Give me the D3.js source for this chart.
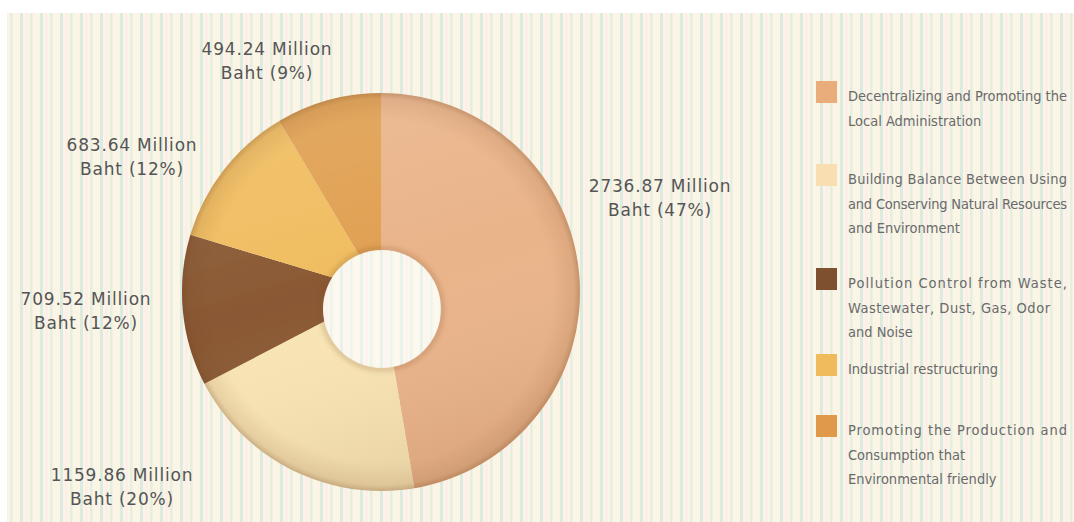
<!DOCTYPE html>
<html>
<head>
<meta charset="utf-8">
<script src="https://cdn.jsdelivr.net/npm/d3@7"></script>
<style>
  html, body { margin: 0; padding: 0; background: #ffffff; }
  svg { display: block; }
</style>
</head>
<body>
<svg id="chart" width="1074" height="522"></svg>
<script>
// Budget allocation by strategy (Million Baht)
const categories = [
  "Decentralizing and Promoting the Local Administration",
  "Building Balance Between Using and Conserving Natural Resources and Environment",
  "Pollution Control from Waste, Wastewater, Dust, Gas, Odor and Noise",
  "Industrial restructuring",
  "Promoting the Production and Consumption that Environmental friendly"
];
const values = [2736.87, 1159.86, 709.52, 683.64, 494.24];
const percents = [47, 20, 12, 12, 9];
const sliceColors = ["#eab48a", "#f8e4b4", "#8a5934", "#f0bd60", "#e0a051"];
const swatchColors = ["#e8ad7b", "#f8deb0", "#7f5030", "#f0bb5c", "#e0984b"];

// Legend text, broken into the lines it is set in
const legendLines = [
  ["Decentralizing and Promoting the", "Local Administration"],
  ["Building Balance Between Using", "and Conserving Natural Resources", "and Environment"],
  ["Pollution Control from Waste,", "Wastewater, Dust, Gas, Odor", "and Noise"],
  ["Industrial restructuring"],
  ["Promoting the Production and", "Consumption that", "Environmental friendly"]
];
// Lines stretched to a fixed width (justified); 0 = natural width
const legendJustify = [
  [219, 0],
  [219, 219, 0],
  [219, 202, 0],
  [0],
  [219, 0, 0]
];
const legendTop = [101, 184, 288, 374, 435];

// Value label anchor points (centre of the two-line label)
const labelPos = [[660, 192], [122, 481], [86, 305], [132, 151], [267, 55]];

const svg = d3.select("#chart");
const W = 1074, H = 522;
const defs = svg.append("defs");

// Striped panel background
const pat = defs.append("pattern")
  .attr("id", "stripes").attr("patternUnits", "userSpaceOnUse")
  .attr("width", 20).attr("height", 10);
pat.append("rect").attr("width", 20).attr("height", 10).attr("fill", "#fbf4e7");
pat.append("rect").attr("x", 0).attr("width", 3).attr("height", 10).attr("fill", "#dcebdf");
pat.append("rect").attr("x", 10).attr("width", 2.5).attr("height", 10).attr("fill", "#e4efe0");
pat.append("rect").attr("x", 5).attr("width", 3).attr("height", 10).attr("fill", "#fdefe7");
pat.append("rect").attr("x", 15).attr("width", 3).attr("height", 10).attr("fill", "#fbf6e3");

svg.append("rect")
  .attr("x", 7).attr("y", 13).attr("width", W - 7).attr("height", H - 13)
  .attr("fill", "url(#stripes)");

// Donut geometry
const cx = 381, cy = 292, R = 199;
const hole = { dx: 1, dy: 17, r: 59 };

const mask = defs.append("mask").attr("id", "holeMask")
  .attr("maskUnits", "userSpaceOnUse")
  .attr("x", 0).attr("y", 0).attr("width", W).attr("height", H);
mask.append("rect").attr("width", W).attr("height", H).attr("fill", "#fff");
mask.append("circle").attr("cx", cx + hole.dx).attr("cy", cy + hole.dy)
  .attr("r", hole.r).attr("fill", "#000");

// Soft rim shading
const rim = defs.append("radialGradient").attr("id", "rim")
  .attr("gradientUnits", "userSpaceOnUse")
  .attr("cx", cx).attr("cy", cy).attr("r", R);
rim.append("stop").attr("offset", "0.86").attr("stop-color", "#6b3a15").attr("stop-opacity", 0);
rim.append("stop").attr("offset", "0.97").attr("stop-color", "#6b3a15").attr("stop-opacity", 0.10);
rim.append("stop").attr("offset", "1").attr("stop-color", "#6b3a15").attr("stop-opacity", 0.28);

const light = defs.append("linearGradient").attr("id", "light")
  .attr("x1", 0).attr("y1", 0).attr("x2", 0.3).attr("y2", 1);
light.append("stop").attr("offset", "0").attr("stop-color", "#fff").attr("stop-opacity", 0.12);
light.append("stop").attr("offset", "0.55").attr("stop-color", "#fff").attr("stop-opacity", 0);
light.append("stop").attr("offset", "1").attr("stop-color", "#5a3010").attr("stop-opacity", 0.08);

defs.append("filter").attr("id", "soft")
  .attr("x", "-10%").attr("y", "-10%").attr("width", "120%").attr("height", "120%")
  .append("feGaussianBlur").attr("stdDeviation", 0.7);

const holeBlur = defs.append("filter").attr("id", "holeBlur")
  .attr("x", "-20%").attr("y", "-20%").attr("width", "140%").attr("height", "140%");
holeBlur.append("feGaussianBlur").attr("stdDeviation", 2);

const pie = d3.pie().sort(null).value(d => d)
  .startAngle(0).endAngle(2 * Math.PI);
const arc = d3.arc().innerRadius(0).outerRadius(R);
const arcs = pie(values);

const g = svg.append("g").attr("mask", "url(#holeMask)");
const pg = g.append("g").attr("transform", `translate(${cx},${cy})`).attr("filter", "url(#soft)");
pg.selectAll("path.slice").data(arcs).join("path")
  .attr("class", "slice")
  .attr("d", arc)
  .attr("fill", (d, i) => sliceColors[i]);
pg.append("circle").attr("r", R).attr("fill", "url(#light)");
g.append("circle").attr("cx", cx).attr("cy", cy).attr("r", R).attr("fill", "url(#rim)");
// inner edge shading around the hole
g.append("circle").attr("cx", cx + hole.dx).attr("cy", cy + hole.dy).attr("r", hole.r + 1)
  .attr("fill", "none").attr("stroke", "#7a4a22").attr("stroke-opacity", 0.22)
  .attr("stroke-width", 5).attr("filter", "url(#holeBlur)");

// Lighter paper inside the hole
svg.append("circle").attr("cx", cx + hole.dx).attr("cy", cy + hole.dy).attr("r", hole.r - 0.5)
  .attr("fill", "#ffffff").attr("fill-opacity", 0.35);

// Value labels
const fmt = d3.format(".2f");
const lbl = svg.append("g")
  .attr("font-family", "'DejaVu Sans', sans-serif")
  .attr("font-size", 17)
  .attr("letter-spacing", 0.8)
  .attr("fill", "#555555")
  .attr("text-anchor", "middle");
values.forEach((v, i) => {
  const [x, y] = labelPos[i];
  const t = lbl.append("text").attr("x", x).attr("y", y);
  t.append("tspan").attr("x", x).attr("y", y).text(`${fmt(v)} Million`);
  t.append("tspan").attr("x", x).attr("y", y + 24).text(`Baht (${percents[i]}%)`);
});

// Legend
const leg = svg.append("g")
  .attr("font-family", "'Liberation Sans Narrow', 'DejaVu Sans Condensed', 'Roboto Condensed', sans-serif")
  .attr("font-size", 14.5)
  .attr("fill", "#6a6a6a");
categories.forEach((c, i) => {
  const y0 = legendTop[i];
  leg.append("rect")
    .attr("x", 816).attr("y", y0 - 20).attr("width", 21).attr("height", 22)
    .attr("fill", swatchColors[i]);
  legendLines[i].forEach((line, j) => {
    const t = leg.append("text").attr("x", 848).attr("y", y0 + j * 24.5).text(line);
    if (legendJustify[i][j]) {
      t.attr("textLength", legendJustify[i][j]).attr("lengthAdjust", "spacing");
    }
  });
});
</script>
</body>
</html>
